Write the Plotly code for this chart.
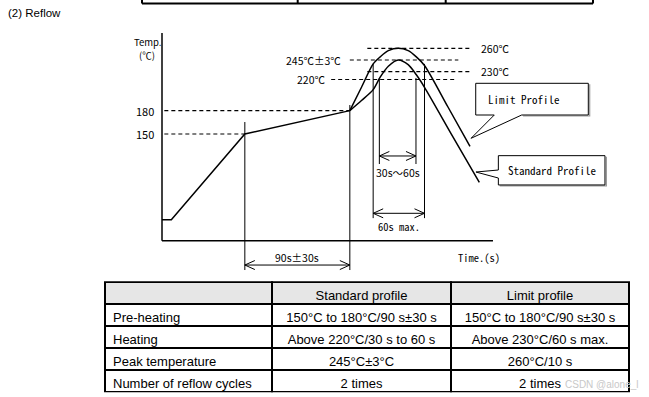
import plotly.graph_objects as go

# ---------------- data ----------------
PREHEAT_T = [0, 8, 71, 161]
PREHEAT_C = [40, 40, 150, 180]

LIMIT_T = [161, 171, 181, 187, 194, 202.5, 211, 218, 225, 245, 264]
LIMIT_C = [180, 210, 240, 249, 257, 260, 257, 249, 238, 185, 134]

STANDARD_T = [161, 171, 181, 187, 194, 202.5, 211, 218, 225, 248, 272]
STANDARD_C = [180, 193, 207, 223, 237, 245, 239, 226, 210, 150, 88]

LEVEL_C = [150, 180, 220, 245, 230, 260]
LEVEL_LABELS = ["150", "180", "220℃", "245℃±3℃", "230℃", "260℃"]
LEVEL_FROM_T = [2, 2, 145, 161, 176, 176]
LEVEL_TO_T = [71, 161, 252, 254, 265.5, 265.5]

TABLE_ROWS = ["Pre-heating", "Heating", "Peak temperature", "Number of reflow cycles"]
TABLE_STANDARD = ["150°C to 180°C/90 s±30 s", "Above 220°C/30 s to 60 s", "245°C±3°C", "2 times"]
TABLE_LIMIT = ["150°C to 180°C/90 s±30 s", "Above 230°C/60 s max.", "260°C/10 s", "2 times"]
TABLE_HEADER = ["", "Standard profile", "Limit profile"]

# ---------------- geometry (figure px <-> data) ----------------
W, H = 649, 397
PX_PER_S = 7 / 6
PX_PER_C = 0.779
X_ORIGIN_PX = 162
C_REF, C_REF_PX = 214.2, 84
XR = [(0 - X_ORIGIN_PX) / PX_PER_S, (W - X_ORIGIN_PX) / PX_PER_S]
YR = [C_REF - (H - C_REF_PX) / PX_PER_C, C_REF + C_REF_PX / PX_PER_C]
AXIS_C0 = 13
AXIS_C1 = 279.7
AXIS_T1 = 283.7

JP = "Noto Sans CJK JP, Noto Sans, sans-serif"
MONO = "Noto Sans Mono CJK JP, Liberation Mono, monospace"
ARIAL = "Liberation Sans, Arial, sans-serif"

fig = go.Figure()


def line(xs, ys, width=1.0, dash=None, shape="linear", color="black"):
    fig.add_trace(go.Scatter(x=xs, y=ys, mode="lines", hoverinfo="skip", showlegend=False,
                             line=dict(color=color, width=width, dash=dash, shape=shape,
                                       smoothing=0.8 if shape == "spline" else None)))


def dim_arrow(t1, t2, c, width=1.0):
    line([t1, t2], [c, c], width)
    L = 10 / PX_PER_S
    h = 4.5 / PX_PER_C
    line([t1 + L, t1, t1 + L], [c + h, c, c - h], width)
    line([t2 - L, t2, t2 - L], [c + h, c, c - h], width)


def text(t, c, s, size=11, family=JP, xanchor="center"):
    fig.add_annotation(x=t, y=c, text=s, showarrow=False, xanchor=xanchor, yanchor="middle",
                       font=dict(family=family, size=size, color="black"))


# axes
line([0, 0], [AXIS_C0, AXIS_C1], 1.5)
line([0, AXIS_T1], [AXIS_C0, AXIS_C0], 1.5)

# dashed level lines
for c, t1, t2 in zip(LEVEL_C, LEVEL_FROM_T, LEVEL_TO_T):
    line([t1, t2], [c, c], 1.2, dash="4px,3px")

# profiles
line(PREHEAT_T, PREHEAT_C, 1.5)
line(LIMIT_T, LIMIT_C, 1.5, shape="spline")
line(STANDARD_T, STANDARD_C, 1.5, shape="spline")

# pre-heating dimension
line([PREHEAT_T[2], PREHEAT_T[2]], [165.4, -24.6], 1.0)
line([PREHEAT_T[3], PREHEAT_T[3]], [187.2, -24.6], 1.0)
dim_arrow(PREHEAT_T[2], PREHEAT_T[3], -18.2)
text((PREHEAT_T[2] + PREHEAT_T[3]) / 2, -7.9, "90s±30s", 10.5)

# heating dimensions
line([181, 181], [240, 42], 1.0)
line([225, 225], [240, 42], 1.0)
dim_arrow(181, 225, 48.2)
text(203, 31, "60s max.", 10.5, MONO)

line([186.3, 186.3], [222, 111.5], 1.0)
line([217.7, 217.7], [222, 111.5], 1.0)
dim_arrow(186.3, 217.7, 121.8)
text(202, 100.3, "30s～60s", 10.5)

# axis titles / level labels
text(-12.6, 268.5, "Temp.", 9.5)
text(-12.6, 252.0, "(℃)", 9.5)
text(-14.6, 180, LEVEL_LABELS[1], 11)
text(-14.6, 150, LEVEL_LABELS[0], 11)
text(141.5, 220, LEVEL_LABELS[2], 10.5, xanchor="right")
text(155.5, 245, LEVEL_LABELS[3], 10.5, xanchor="right")
text(271.7, 260, LEVEL_LABELS[5], 10.5, xanchor="left")
text(271.7, 230, LEVEL_LABELS[4], 10.5, xanchor="left")
text(271.3, -8.8, "Time.(s)", 10.5, MONO)

# callouts (light shadow then outline)
LIMIT_BOX = ("M 268.9,215.1 L 365.4,215.1 L 365.4,174.4 L 308.3,174.4 L 264.9,144.5 "
             "L 284.8,174.4 L 268.9,174.4 Z")
STD_BOX = ("M 288.3,122.2 L 379.7,122.2 L 379.7,84.6 L 288.3,84.6 L 288.3,93.5 "
           "L 269.1,101.2 L 288.3,103.8 Z")
fig.add_shape(type="path", xref="x", yref="y",
              path="M 366.6,213.8 L 366.6,173.1 L 309.5,173.1",
              line=dict(color="#9a9a9a", width=1.2))
fig.add_shape(type="path", xref="x", yref="y",
              path="M 380.9,120.9 L 380.9,83.3 L 289.5,83.3",
              line=dict(color="#9a9a9a", width=1.2))
fig.add_shape(type="path", xref="x", yref="y", path=LIMIT_BOX,
              line=dict(color="black", width=1), fillcolor="white")
text(310.4, 195, "Limit Profile", 11, MONO)
fig.add_shape(type="path", xref="x", yref="y", path=STD_BOX,
              line=dict(color="black", width=1), fillcolor="white")
text(333.9, 104, "Standard Profile", 11, MONO)

# table
fig.add_trace(go.Table(
    domain=dict(x=[105 / W, 629.5 / W], y=[1 - 392.5 / H, 1 - 282.3 / H]),
    columnwidth=[167, 179, 178],
    header=dict(values=TABLE_HEADER, fill_color="#e6e6e6", align="center", height=22,
                line=dict(color="black", width=2),
                font=dict(family=ARIAL, size=13, color="black")),
    cells=dict(values=[TABLE_ROWS, TABLE_STANDARD, TABLE_LIMIT], fill_color="white",
               align=["left", "center", "center"], height=22,
               line=dict(color="black", width=2),
               font=dict(family=ARIAL, size=13, color="black")),
))

# page decorations
fig.add_annotation(x=6 / W, y=1 - 13 / H, xref="paper", yref="paper", text="(2) Reflow",
                   showarrow=False, xanchor="left", yanchor="middle",
                   font=dict(family=ARIAL, size=11.5, color="black"))
for x0, x1, y0, y1 in [(142, 593, 3.5, 3.5), (142, 142, 0, 3.5), (297.7, 297.7, 0, 3.5),
                       (445.7, 445.7, 0, 3.5), (593, 593, 0, 3.5)]:
    fig.add_shape(type="line", xref="paper", yref="paper", x0=x0 / W, x1=x1 / W,
                  y0=1 - y0 / H, y1=1 - y1 / H, line=dict(color="black", width=2))
fig.add_annotation(x=641 / W, y=1 - 384 / H, xref="paper", yref="paper", text="CSDN @alone_l",
                   showarrow=False, xanchor="right", yanchor="middle",
                   font=dict(family=ARIAL, size=10, color="#c8c8c8"))

fig.update_layout(width=W, height=H, margin=dict(l=0, r=0, t=0, b=0),
                  paper_bgcolor="white", plot_bgcolor="white", showlegend=False,
                  xaxis=dict(range=XR, visible=False, fixedrange=True),
                  yaxis=dict(range=YR, visible=False, fixedrange=True))
fig.write_html("out.html", config={"displayModeBar": False},
               post_script="document.body.style.margin='0px';document.body.style.overflow='hidden';")
